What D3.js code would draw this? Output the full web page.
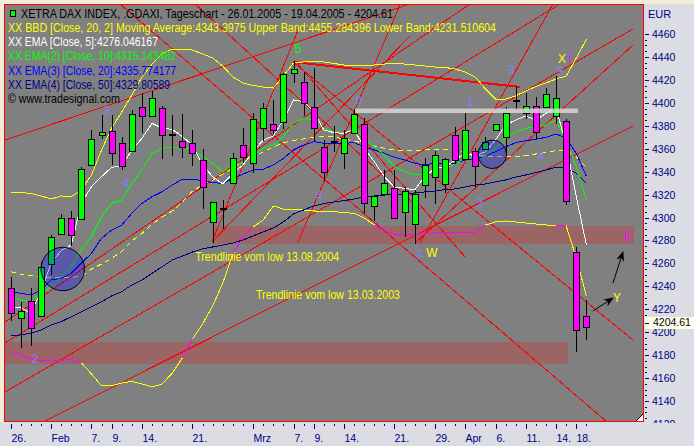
<!DOCTYPE html>
<html><head><meta charset="utf-8">
<script src="https://cdn.jsdelivr.net/npm/d3@7"></script>
<style>
html,body{margin:0;padding:0;background:#dcdce4;overflow:hidden;}
svg{display:block;}
text{font-family:"Liberation Sans",Arial,sans-serif;}
</style></head><body>
<svg id="chart" width="694" height="446"></svg>
<script>
// ---------------- DATA ----------------
const dates = ["2005-01-26","2005-01-27","2005-01-28","2005-01-31",
"2005-02-01","2005-02-02","2005-02-03","2005-02-04","2005-02-07","2005-02-08","2005-02-09","2005-02-10","2005-02-11",
"2005-02-14","2005-02-15","2005-02-16","2005-02-17","2005-02-18","2005-02-21","2005-02-22","2005-02-23","2005-02-24","2005-02-25","2005-02-28",
"2005-03-01","2005-03-02","2005-03-03","2005-03-04","2005-03-07","2005-03-08","2005-03-09","2005-03-10","2005-03-11",
"2005-03-14","2005-03-15","2005-03-16","2005-03-17","2005-03-18","2005-03-21","2005-03-22","2005-03-23","2005-03-24",
"2005-03-29","2005-03-30","2005-03-31","2005-04-01","2005-04-04","2005-04-05","2005-04-06","2005-04-07","2005-04-08",
"2005-04-11","2005-04-12","2005-04-13","2005-04-14","2005-04-15","2005-04-18","2005-04-19"];

const open  = [4238.6,4212.1,4227.2,4214.1,4259.5,4285.4,4299.8,4298.4,4345.5,4371.9,4375.7,4365.2,4358.0,4396.6,4388.5,4395.2,4372.5,4366.7,4365.2,4350.0,4296.4,4307.9,4330.4,4363.0,4347.8,4377.8,4381.3,4383.0,4426.3,4418.4,4396.6,4361.7,4366.5,4356.5,4373.4,4381.3,4310.3,4320.2,4325.5,4304.6,4294.0,4328.4,4335.0,4329.0,4372.0,4351.0,4358.3,4359.6,4376.3,4370.5,4402.2,4390.9,4397.3,4396.6,4388.2,4383.8,4269.7,4214.0];
const high  = [4248.1,4226.6,4238.3,4261.0,4284.8,4303.0,4305.7,4343.8,4376.3,4389.4,4389.0,4370.5,4393.7,4408.3,4410.6,4397.0,4389.0,4390.0,4376.0,4360.0,4313.8,4315.3,4356.0,4377.8,4390.9,4399.6,4402.5,4426.3,4436.7,4427.0,4430.3,4367.6,4380.0,4376.0,4394.4,4386.5,4319.0,4341.7,4341.0,4327.0,4324.0,4352.0,4358.0,4352.0,4379.0,4392.0,4361.0,4370.0,4381.3,4396.0,4414.3,4408.3,4405.3,4413.0,4423.8,4385.9,4274.6,4228.1];
const low   = [4211.0,4187.0,4188.9,4214.1,4251.0,4285.4,4276.0,4298.4,4345.5,4369.0,4347.0,4342.0,4358.0,4374.8,4388.5,4352.0,4354.5,4353.0,4345.8,4308.0,4279.0,4290.6,4330.4,4348.7,4340.0,4367.6,4373.4,4377.8,4418.4,4389.4,4367.6,4332.7,4358.0,4343.0,4373.4,4305.0,4297.8,4320.2,4299.8,4283.9,4278.0,4318.2,4312.4,4322.5,4347.3,4351.0,4327.6,4359.6,4376.3,4354.2,4394.3,4386.5,4369.0,4396.6,4382.1,4311.8,4183.9,4193.8];
const close = [4216.8,4218.5,4203.4,4257.1,4282.8,4299.3,4284.7,4342.0,4368.7,4374.3,4356.0,4344.9,4390.0,4388.5,4404.0,4372.0,4371.8,4361.7,4356.0,4326.9,4313.8,4307.2,4351.6,4353.0,4385.6,4395.2,4376.3,4424.9,4429.2,4399.6,4377.8,4340.0,4366.0,4369.5,4390.0,4312.4,4319.0,4330.0,4299.8,4323.4,4320.2,4346.2,4354.5,4350.8,4350.0,4376.3,4344.6,4365.8,4381.3,4391.4,4401.6,4397.3,4374.8,4407.4,4404.0,4314.7,4202.0,4204.61];

const ema5  = [4222.4,4221.1,4216.8,4235.1,4260.3,4271.1,4276.0,4312.7,4326.9,4335.6,4343.8,4344.9,4358.9,4369.1,4382.1,4377.8,4376.9,4370.5,4363.2,4345.8,4335.6,4329.2,4338.6,4345.8,4357.4,4367.6,4371.1,4385.0,4402.5,4401.0,4392.3,4376.3,4374.0,4373.4,4376.9,4360.4,4348.7,4335.6,4326.3,4325.5,4324.0,4335.6,4342.9,4343.8,4350.2,4356.0,4353.6,4357.4,4367.6,4380.7,4385.0,4388.5,4385.0,4390.9,4395.2,4363.2,4318.2,4276.0];
const ema10 = [4231.0,4228.1,4226.6,4233.9,4239.7,4248.4,4257.1,4271.7,4283.3,4301.0,4312.4,4315.3,4329.8,4341.4,4356.0,4360.4,4361.0,4361.7,4358.9,4353.0,4347.3,4340.0,4345.8,4347.8,4354.5,4360.4,4363.2,4370.5,4382.1,4386.5,4385.0,4377.8,4374.8,4374.0,4376.9,4369.1,4361.7,4354.5,4344.3,4340.0,4337.1,4337.1,4340.0,4342.0,4346.7,4351.6,4352.5,4353.6,4360.4,4369.1,4374.8,4377.8,4379.2,4380.7,4385.0,4367.6,4344.3,4315.1];
const ema20 = [4235.3,4233.9,4232.5,4236.8,4245.5,4247.0,4251.4,4260.1,4268.8,4281.9,4289.1,4293.5,4303.7,4312.4,4318.2,4322.5,4328.4,4333.3,4333.3,4332.1,4330.4,4329.8,4334.2,4337.9,4341.4,4342.0,4345.8,4351.6,4358.9,4363.2,4366.1,4364.7,4364.5,4364.7,4365.2,4361.7,4358.9,4356.0,4352.5,4350.2,4347.3,4345.8,4347.3,4347.3,4347.5,4350.2,4350.8,4353.6,4357.4,4361.7,4365.2,4367.0,4368.2,4369.9,4372.8,4369.1,4356.0,4335.8];
const ema50 = [4196.7,4197.6,4199.1,4201.9,4206.3,4209.2,4213.5,4217.9,4222.3,4226.6,4231.6,4235.3,4241.2,4245.5,4251.4,4257.1,4263.0,4266.4,4269.9,4272.6,4274.3,4276.0,4277.8,4280.4,4283.9,4287.4,4290.9,4296.1,4303.1,4306.6,4310.0,4312.2,4313.5,4314.8,4316.1,4317.9,4318.8,4319.6,4320.1,4320.5,4321.4,4322.3,4323.1,4324.4,4324.9,4326.6,4328.4,4329.2,4331.0,4332.7,4335.3,4337.1,4339.2,4341.4,4344.0,4343.2,4338.8,4329.8];
const bbUpper  = [4322.0,4321.8,4320.9,4318.8,4316.1,4318.8,4318.2,4324.0,4337.1,4358.9,4378.0,4392.0,4406.8,4422.5,4433.8,4442.6,4446.9,4446.9,4446.0,4442.6,4439.1,4432.1,4422.5,4417.3,4415.1,4413.8,4412.9,4423.4,4434.7,4435.6,4435.9,4435.6,4434.3,4433.0,4432.1,4432.1,4433.0,4433.8,4434.3,4433.8,4433.0,4432.1,4431.2,4430.8,4429.5,4426.9,4422.5,4412.0,4403.3,4403.3,4406.0,4410.3,4414.2,4417.3,4420.8,4423.4,4439.1,4455.3];
const bbMiddle = [4252.8,4250.5,4249.3,4248.4,4247.5,4247.5,4247.5,4249.0,4255.1,4259.5,4264.4,4270.4,4279.5,4286.1,4294.3,4300.5,4305.7,4313.5,4323.1,4328.4,4332.7,4337.9,4343.2,4348.4,4352.8,4357.1,4361.5,4365.0,4367.2,4368.5,4369.8,4370.6,4370.2,4368.5,4366.7,4364.7,4362.4,4360.4,4358.9,4358.3,4358.4,4358.9,4359.3,4359.5,4358.4,4356.7,4354.5,4353.6,4353.0,4353.0,4353.0,4354.1,4355.4,4356.7,4358.3,4358.0,4353.0,4343.4];
const bbLower  = [4183.0,4180.1,4176.7,4175.3,4175.8,4175.3,4176.2,4173.2,4163.6,4153.1,4153.5,4155.7,4157.0,4154.9,4152.2,4154.9,4164.4,4177.5,4194.1,4207.2,4222.9,4242.9,4268.2,4283.0,4291.7,4297.8,4310.0,4307.4,4306.6,4306.6,4305.7,4305.2,4305.2,4304.2,4303.7,4299.6,4293.5,4288.3,4285.6,4284.8,4285.2,4286.1,4286.5,4286.9,4286.8,4286.8,4286.9,4293.5,4296.1,4297.0,4296.1,4295.2,4294.3,4293.5,4293.0,4292.6,4264.7,4231.5];
// day-index ranges where the lower band is drawn magenta
const bbLowerMagentaRanges = [[0,7],[17,18],[22,24],[36,47],[54,55]];

const xTickLabels = [["2005-01-26","26."],["2005-02-01","Feb"],["2005-02-07","7."],["2005-02-09","9."],["2005-02-14","14."],["2005-02-21","21."],["2005-03-01","Mrz"],["2005-03-07","7."],["2005-03-09","9."],["2005-03-14","14."],["2005-03-21","21."],["2005-03-29","29."],["2005-04-01","Apr"],["2005-04-06","6."],["2005-04-11","11."],["2005-04-14","14."],["2005-04-18","18."]];
const yTicks = [4120,4140,4160,4180,4200,4220,4240,4260,4280,4300,4320,4340,4360,4380,4400,4420,4440,4460];
const lastPrice = 4204.61;

const legendTexts = [
 "XETRA DAX INDEX, .GDAXI, Tageschart - 26.01.2005 - 19.04.2005 - 4204.61",
 "XX BBD [Close, 20, 2] Moving Average:4343.3975 Upper Band:4455.284396 Lower Band:4231.510604",
 "XX EMA [Close, 5]:4276.046167",
 "XX EMA(2) [Close, 10]:4315.143482",
 "XX EMA(3) [Close, 20]:4335.774177",
 "XX EMA(4) [Close, 50]:4329.80589",
 "\u00A9 www.tradesignal.com"];

// drawing tools: [dayIndex1, price1, dayIndex2, price2]
const trendLines = [
 [-0.56,4367.6,39.53,4486.2],[-0.56,4208.9,45.47,4486.2],[-0.56,4190.6,54.39,4486.2],
 [-0.56,4147.9,61.61,4464.4],[3.2,4121.7,61.61,4379.8],[40.03,4277.8,61.61,4450.4],
 [40.52,4277.8,53.69,4486.2],[19.93,4278.7,28.45,4463.5],[19.93,4278.7,39.53,4458.3],
 [28.45,4278.7,38.54,4485.3],[10.82,4486.2,59.04,4121.7],[27.95,4435.6,61.61,4193.2],
 [28.25,4435.6,44.98,4265.6],[18.25,4486.2,40.52,4307.4]];
const resistanceLine = [27.95,4435.6,50.43,4413.8];
const zones = [[19.95,61.71,4292.6,4276.9],[-0.61,55.18,4191.5,4172.3]]; // i1,i2,pTop,pBottom
const resistanceBar = [34.09,56.17,4395.0,4391.1];
const circles = [[5.15,4255.1,2.15],[47.68,4355.1,1.41]]; // i, price, radius in days
const arrows = [[57.65,4218.5,59.63,4229.8],[59.63,4242.9,60.62,4269.9]];
const blueLabels = [["3",9.53,4393.0],["4",11.41,4330.1],["2",2.4,4177.3],["a",30.52,4320.5],["b",34.49,4402.5],["c",40.52,4269.1],["1",45.48,4400.7],["2",46.47,4312.7],["3",49.53,4428.6],["4",52.5,4353.6],["5",54.48,4427.0]];
const greenLabels = [["5",28.44,4446.9]];
const yellowLabels = [["W",41.71,4269.1],["X",54.58,4438.5],["Y",60.03,4229.8]];
const magentaLabels = [["I",55.37,4438.5],["II",61.02,4283.0]];
const trendNotes = [["Trendlinie vom low 13.08.2004",18.27,4265.6],["Trendlinie vom low 13.03.2003",24.29,4232.4]];

// ---------------- LAYOUT ----------------
const W = 694, H = 446;
const svg = d3.select("#chart");
const x = d3.scaleLinear().domain([0, dates.length - 1]).range([10.7, 586.4]);
const y = d3.scaleLinear().domain([4140, 4460]).range([401, 34]);
const xr = x.copy().interpolate(d3.interpolateRound);
const yr = y.copy().interpolate(d3.interpolateRound);
const dayIndex = new Map(dates.map((d, i) => [d, i]));
const FONT = '"Liberation Sans",Arial,sans-serif';

const defs = svg.append("defs");
defs.append("clipPath").attr("id","plotclip").append("rect").attr("x",5).attr("y",5).attr("width",638).attr("height",416);
defs.append("clipPath").attr("id","yclip").append("rect").attr("x",640).attr("y",0).attr("width",60).attr("height",423);
defs.append("marker").attr("id","ah").attr("viewBox","0 0 10 8").attr("refX",9).attr("refY",4)
  .attr("markerWidth",10).attr("markerHeight",8).attr("markerUnits","userSpaceOnUse").attr("orient","auto")
  .append("path").attr("d","M0,0 L10,4 L0,8 L3,4 Z").attr("fill","#000");

// backgrounds
svg.append("rect").attr("width",W).attr("height",H).attr("fill","#dcdce4");
svg.append("rect").attr("width",W).attr("height",4).attr("fill","#f2ecd8");
svg.append("rect").attr("width",4).attr("height",422).attr("fill","#f2ecd8");
svg.append("rect").attr("x",4).attr("y",4).attr("width",640).attr("height",418).attr("fill","#808080");

const g = svg.append("g").attr("clip-path","url(#plotclip)");

// zones
g.selectAll("rect.zone").data(zones).join("rect").attr("class","zone")
 .attr("x",d=>x(d[0])).attr("width",d=>x(d[1])-x(d[0]))
 .attr("y",d=>y(d[2])).attr("height",d=>y(d[3])-y(d[2]))
 .attr("fill","rgba(255,0,0,0.21)");

// trend lines
const gl = g.append("g").attr("shape-rendering","crispEdges");
gl.selectAll("line.tl").data(trendLines).join("line").attr("class","tl")
 .attr("x1",d=>x(d[0])).attr("y1",d=>y(d[1])).attr("x2",d=>x(d[2])).attr("y2",d=>y(d[3]))
 .attr("stroke","#ff0000").attr("stroke-width",1);
gl.append("line").attr("x1",x(resistanceLine[0])).attr("y1",y(resistanceLine[1]))
 .attr("x2",x(resistanceLine[2])).attr("y2",y(resistanceLine[3])).attr("stroke","#ff0000").attr("stroke-width",2);

// indicator lines
const line = d3.line().x((d,i)=>x(i)).y(d=>y(d));
const segLine = d3.line().x(d=>x(d[0])).y(d=>y(d[1]));
function path(data, color, extra) {
  const p = gl.append("path").attr("d", line(data)).attr("fill","none").attr("stroke",color).attr("stroke-width",1);
  if (extra) extra(p);
  return p;
}
path(bbUpper, "#ffff00");
path(bbMiddle, "#ffff00", p=>p.attr("stroke-dasharray","5,4"));
path(bbLower, "#ffff00");
bbLowerMagentaRanges.forEach(([a,b]) => {
  const pts = d3.range(a, b+1).map(i => [i, bbLower[i]]);
  gl.append("path").attr("d", segLine(pts)).attr("fill","none").attr("stroke","#ff00ff").attr("stroke-width",1);
});
path(ema50, "#000080");
path(ema20, "#0000ff");
path(ema10, "#00ff00");
path(ema5, "#ffffff");

// candles
const gc = g.append("g").attr("shape-rendering","crispEdges");
const candles = dates.map((d,i)=>({i, o:open[i], h:high[i], l:low[i], c:close[i]}));
gc.selectAll("line.wick").data(candles).join("line").attr("class","wick")
 .attr("x1",d=>xr(d.i)+0.5).attr("x2",d=>xr(d.i)+0.5)
 .attr("y1",d=>yr(d.h)).attr("y2",d=>yr(d.l)+1).attr("stroke","#000");
gc.selectAll("rect.body").data(candles).join("rect").attr("class","body")
 .attr("x",d=>xr(d.i)-2.5).attr("width",6)
 .attr("y",d=>yr(Math.max(d.o,d.c))+0.5)
 .attr("height",d=>Math.max(0, yr(Math.min(d.o,d.c))-yr(Math.max(d.o,d.c))))
 .attr("fill",d=>d.c>=d.o?"#00ff00":"#ff00ff").attr("stroke","#000").attr("stroke-width",1);

// circles
g.selectAll("circle.mark").data(circles).join("circle").attr("class","mark")
 .attr("cx",d=>x(d[0])).attr("cy",d=>y(d[1])).attr("r",d=>x(d[2])-x(0))
 .attr("fill","rgba(0,0,255,0.3)").attr("stroke","#000022").attr("stroke-width",1);

// resistance bar
g.append("rect").attr("x",x(resistanceBar[0])).attr("width",x(resistanceBar[1])-x(resistanceBar[0]))
 .attr("y",y(resistanceBar[2])).attr("height",y(resistanceBar[3])-y(resistanceBar[2]))
 .attr("fill","rgba(215,215,215,0.85)");

// arrows
g.selectAll("line.arrow").data(arrows).join("line").attr("class","arrow")
 .attr("x1",d=>x(d[0])).attr("y1",d=>y(d[1])).attr("x2",d=>x(d[2])).attr("y2",d=>y(d[3]))
 .attr("stroke","#000").attr("stroke-width",1).attr("marker-end","url(#ah)");

// labels
function labels(data, color) {
  g.selectAll(null).data(data).join("text")
   .attr("x",d=>x(d[1])).attr("y",d=>y(d[2])).attr("dy","0.36em")
   .attr("text-anchor","middle").attr("font-size","12px").attr("fill",color).text(d=>d[0]);
}
labels(blueLabels, "#8080ff");
labels(greenLabels, "#00ff00");
labels(yellowLabels, "#ffff00");
labels(magentaLabels, "#ff00ff");
g.selectAll(null).data(trendNotes).join("text")
 .attr("x",d=>x(d[1])).attr("y",d=>y(d[2])).attr("dy","0.36em")
 .attr("font-size","12px").attr("fill","#ffff00")
 .attr("textLength",144).attr("lengthAdjust","spacingAndGlyphs").text(d=>d[0]);

// legend
const legendColors = ["#000000","#ffff00","#ffffff","#00ff00","#0000ff","#000080","#000000"];
const legendX = [21, 8, 8, 8, 8, 8, 8];
const legendLen = [372, 488, 150, 168, 168, 162, 112];
svg.selectAll("text.leg").data(legendTexts).join("text").attr("class","leg")
 .attr("x",(d,i)=>legendX[i]).attr("y",(d,i)=>18.3 + i*14.05)
 .attr("font-size","12px").attr("fill",(d,i)=>legendColors[i])
 .attr("textLength",(d,i)=>legendLen[i]).attr("lengthAdjust","spacingAndGlyphs").text(d=>d);
svg.append("rect").attr("x",10.5).attr("y",10.5).attr("width",5).attr("height",6)
 .attr("fill","#00ff00").attr("stroke","#000").attr("shape-rendering","crispEdges");

// frame
svg.append("rect").attr("x",4.5).attr("y",4.5).attr("width",639).attr("height",417)
 .attr("fill","none").attr("stroke","#ff0000").attr("shape-rendering","crispEdges");
// resize grip
svg.append("path").attr("d","M636,421 L643,414 L643,421 Z").attr("fill","#ffffff");
svg.append("line").attr("x1",636).attr("y1",421).attr("x2",643).attr("y2",414).attr("stroke","#000");

// x axis
const axisColor = "#000080";
function styleAxis(sel) {
  sel.select(".domain").remove();
  sel.selectAll(".tick line").attr("stroke",axisColor);
  sel.selectAll(".tick text").attr("fill",axisColor).attr("font-size","10.5px").attr("font-family",FONT);
}
svg.append("g").attr("transform","translate(0,424)")
 .call(d3.axisBottom(xr).tickValues(d3.range(dates.length)).tickSize(2).tickFormat(""))
 .call(styleAxis);
const xMajor = svg.append("g").attr("transform","translate(0,424)")
 .call(d3.axisBottom(xr).tickValues(xTickLabels.map(d=>dayIndex.get(d[0])))
   .tickSize(5).tickPadding(5.5).tickFormat((v,k)=>xTickLabels[k][1]))
 .call(styleAxis);
xMajor.selectAll(".tick text").attr("text-anchor","start").attr("x",0);

// y axis
const ya = svg.append("g").attr("clip-path","url(#yclip)");
ya.append("g").attr("transform","translate(645,0)")
 .call(d3.axisRight(yr).tickValues(d3.range(4120,4461,5).filter(v=>v%20!==0)).tickSize(2).tickFormat(""))
 .call(styleAxis);
ya.append("g").attr("transform","translate(645,0)")
 .call(d3.axisRight(yr).tickValues(yTicks).tickSize(4).tickPadding(3).tickFormat(d3.format("d")))
 .call(styleAxis);
svg.append("text").attr("x",648).attr("y",18).attr("font-size","11px").attr("fill",axisColor).text("EUR");

// last price tag
const py = y(lastPrice) - 4.3;
svg.append("rect").attr("x",645).attr("y",Math.round(py-6)).attr("width",49).attr("height",12).attr("fill","#ffffe1");
svg.append("line").attr("x1",645).attr("x2",649).attr("y1",Math.round(py)+0.5).attr("y2",Math.round(py)+0.5).attr("stroke",axisColor);
svg.append("text").attr("x",653).attr("y",py).attr("dy","0.36em").attr("font-size","10.5px").attr("fill","#000033").text(lastPrice.toFixed(2));
</script>
</body></html>
